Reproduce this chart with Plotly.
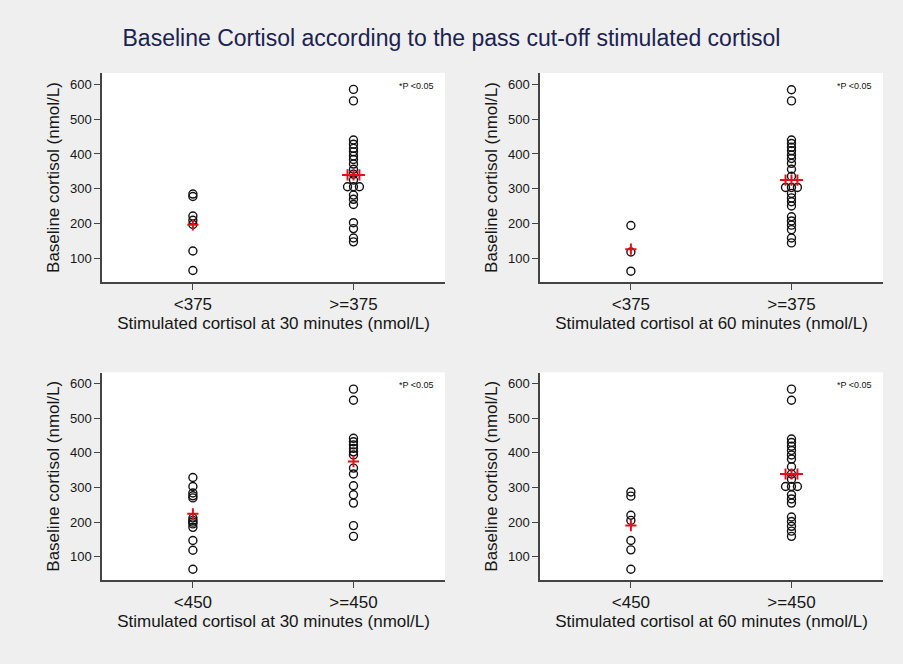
import plotly.graph_objects as go
from collections import Counter

# ---------------- data ----------------
categories_375 = ["<375", ">=375"]
categories_450 = ["<450", ">=450"]

p1_lo = [66, 122, 198, 210, 222, 278, 285]
p1_hi = [148, 159, 186, 203, 255, 270, 282, 306, 306, 306, 325, 342, 356, 371,
         384, 394, 406, 416, 428, 440, 552, 585]
p1_mean = [197, 340]

p2_lo = [64, 119, 195]
p2_hi = [145, 159, 183, 196, 208, 220, 251, 263, 274, 287, 304, 304, 304, 336,
         356, 373, 387, 397, 409, 419, 430, 440, 552, 584]
p2_mean = [127, 325]

p3_lo = [64, 119, 147, 185, 195, 200, 205, 212, 270, 276, 284, 303, 329]
p3_hi = [159, 190, 255, 279, 305, 339, 356, 394, 403, 413, 423, 432, 442, 552, 584]
p3_mean = [224, 375]

p4_lo = [64, 120, 147, 205, 220, 275, 287]
p4_hi = [159, 174, 188, 202, 215, 255, 267, 279, 303, 303, 303, 324, 339, 360,
         382, 394, 407, 419, 430, 440, 552, 584]
p4_mean = [190, 339]

# number of mean markers drawn side by side in each group
p1_mean_marks = [1, 3]
p2_mean_marks = [1, 3]
p3_mean_marks = [1, 1]
p4_mean_marks = [1, 3]

x_titles = [
    "Stimulated cortisol at 30 minutes (nmol/L)",
    "Stimulated cortisol at 60 minutes (nmol/L)",
    "Stimulated cortisol at 30 minutes (nmol/L)",
    "Stimulated cortisol at 60 minutes (nmol/L)",
]
y_title = "Baseline cortisol (nmol/L)"
y_ticks = [100, 200, 300, 400, 500, 600]
title_text = "Baseline Cortisol according to the pass cut-off stimulated cortisol"
p_note = "*P <0.05"

panels = [
    (p1_lo, p1_hi, p1_mean, p1_mean_marks, categories_375),
    (p2_lo, p2_hi, p2_mean, p2_mean_marks, categories_375),
    (p3_lo, p3_hi, p3_mean, p3_mean_marks, categories_450),
    (p4_lo, p4_hi, p4_mean, p4_mean_marks, categories_450),
]

# ---------------- layout geometry ----------------
W, H = 903, 664
SPREAD = 0.037
FONT = "Liberation Sans, Arial, Helvetica, sans-serif"
TEXT = "#161616"

def px_x(a, b):
    return [a / W, b / W]

def px_y(top, bottom):
    return [1 - bottom / H, 1 - top / H]

domains = [
    (px_x(102, 445), px_y(73, 282)),
    (px_x(540, 883), px_y(73, 282)),
    (px_x(102, 445), px_y(372.5, 580)),
    (px_x(540, 883), px_y(372.5, 580)),
]


def spread_positions(values, center):
    counts = Counter(values)
    seen = Counter()
    xs = []
    for v in values:
        n = counts[v]
        i = seen[v]
        seen[v] += 1
        xs.append(center + (i - (n - 1) / 2) * SPREAD)
    return xs


fig = go.Figure()
layout_axes = {}
for k, (lo, hi, mean, marks, cats) in enumerate(panels):
    idx = "" if k == 0 else str(k + 1)
    xa, ya = "x" + idx, "y" + idx
    xs = spread_positions(lo, 0) + spread_positions(hi, 1)
    ys = lo + hi
    fig.add_trace(go.Scatter(
        x=xs, y=ys, mode="markers", xaxis=xa, yaxis=ya, showlegend=False,
        marker=dict(symbol="circle-open", size=8, color="#111111",
                    line=dict(width=1.4, color="#111111")),
    ))
    mx, my = [], []
    for g in range(2):
        for j in range(marks[g]):
            mx.append(g + (j - (marks[g] - 1) / 2) * SPREAD)
            my.append(mean[g])
    fig.add_trace(go.Scatter(
        x=mx, y=my, mode="markers", xaxis=xa, yaxis=ya, showlegend=False,
        marker=dict(symbol="cross-thin-open", size=8, color="#e3101b",
                    line=dict(width=2, color="#e3101b")),
    ))
    dx, dy = domains[k]
    layout_axes["xaxis" + idx] = dict(
        domain=dx, anchor=ya, range=[-0.566, 1.57], tickmode="array",
        tickvals=[0, 1], ticktext=cats, showgrid=False, zeroline=False,
        showline=True, linecolor="#444444", linewidth=1.5, ticks="outside",
        ticklen=6, tickwidth=1.3, tickcolor="#444444",
        tickfont=dict(size=17, color=TEXT, family=FONT),
        title=dict(text=x_titles[k], font=dict(size=17, color=TEXT, family=FONT),
                   standoff=4),
    )
    layout_axes["yaxis" + idx] = dict(
        domain=dy, anchor=xa, range=[33, 632], tickmode="array",
        tickvals=y_ticks, showgrid=False, zeroline=False,
        showline=True, linecolor="#444444", linewidth=1.5, ticks="outside",
        ticklen=6, tickwidth=1.3, tickcolor="#444444",
        tickfont=dict(size=13, color=TEXT, family=FONT),
        title=dict(text=y_title, font=dict(size=17, color=TEXT, family=FONT),
                   standoff=6),
    )

shapes = []
annotations = []
for k in range(4):
    idx = "" if k == 0 else str(k + 1)
    dx, dy = domains[k]
    shapes.append(dict(type="rect", xref="paper", yref="paper",
                       x0=dx[0], x1=dx[1], y0=dy[0], y1=dy[1],
                       fillcolor="white", line=dict(width=0), layer="below"))
    annotations.append(dict(
        text=p_note, xref="x" + idx + " domain", yref="y" + idx + " domain",
        x=0.975, y=0.94, xanchor="right", yanchor="middle", showarrow=False,
        font=dict(size=9, color="#111111", family=FONT),
    ))

fig.update_layout(
    width=W, height=H, margin=dict(l=0, r=0, t=0, b=0),
    paper_bgcolor="#efefef", plot_bgcolor="white",
    title=dict(text=title_text, x=0.5, xanchor="center", y=1 - 38 / H,
               yanchor="middle",
               font=dict(size=23, color="#1b2350", family=FONT)),
    shapes=shapes, annotations=annotations,
    font=dict(family=FONT),
    **layout_axes,
)

fig.write_html("out.html")
